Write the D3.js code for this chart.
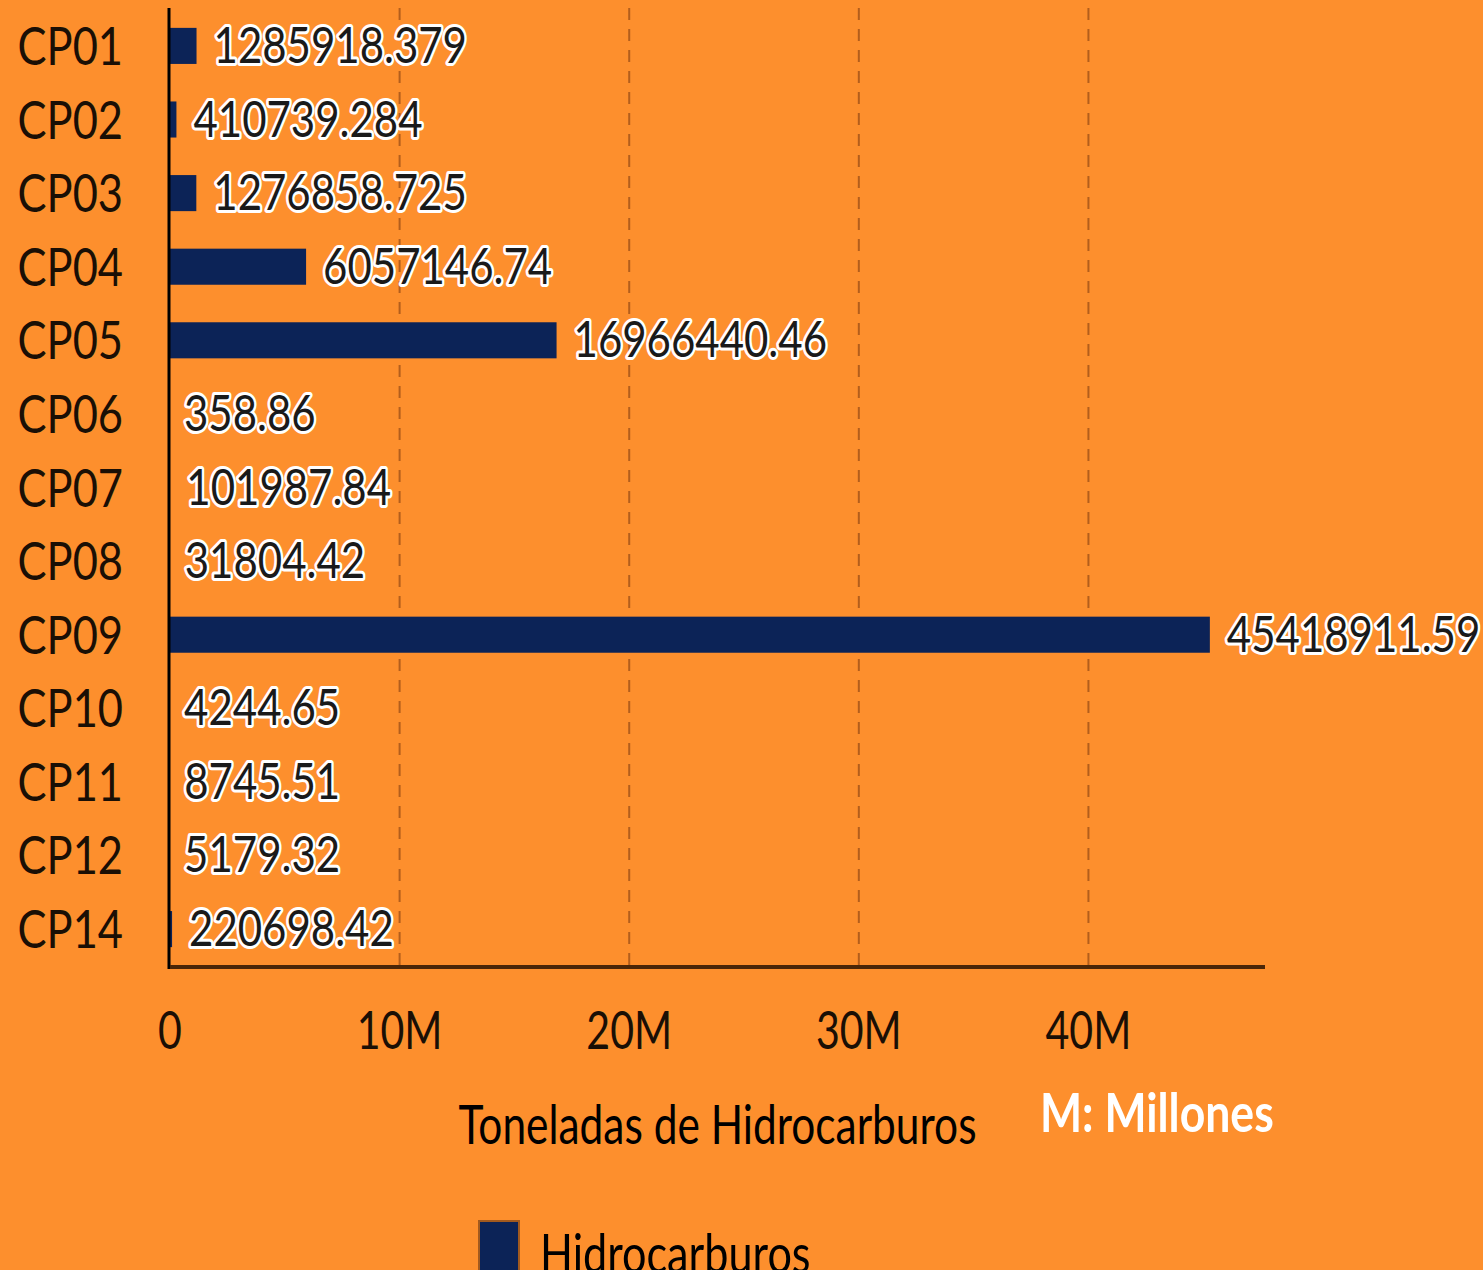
<!DOCTYPE html>
<html>
<head>
<meta charset="utf-8">
<script src="https://cdn.jsdelivr.net/npm/d3@7"></script>
<style>
  body { margin: 0; background: #fd8f2d; overflow: hidden; }
  svg { display: block; }
</style>
</head>
<body>
<svg id="chart"></svg>
<script>
const categories = ['CP01', 'CP02', 'CP03', 'CP04', 'CP05', 'CP06', 'CP07', 'CP08', 'CP09', 'CP10', 'CP11', 'CP12', 'CP14'];
const values = [1285918.379, 410739.284, 1276858.725, 6057146.74, 16966440.46, 358.86, 101987.84, 31804.42, 45418911.59, 4244.65, 8745.51, 5179.32, 220698.42];
const valueLabels = ['1285918.379', '410739.284', '1276858.725', '6057146.74', '16966440.46', '358.86', '101987.84', '31804.42', '45418911.59', '4244.65', '8745.51', '5179.32', '220698.42'];
const xTicks = [0, 10000000, 20000000, 30000000, 40000000];
const seriesName = 'Hidrocarburos';

const width = 1483, height = 1270;
const margin = { top: 8, right: 218, bottom: 303, left: 170 };
const innerW = width - margin.left - margin.right;
const innerH = height - margin.top - margin.bottom;
const navy = '#0c2357';

const svg = d3.select('#chart')
    .attr('width', width)
    .attr('height', height)
    .style('font-family', 'Lato, "Open Sans", sans-serif');

svg.append('rect')
    .attr('width', width)
    .attr('height', height)
    .attr('fill', '#fd8f2d');

const chart = svg.append('g')
    .attr('transform', `translate(${margin.left}, ${margin.top})`);

const xScale = d3.scaleLinear()
    .domain([0, d3.max(values) * 1.05])
    .range([0, innerW]);

const yScale = d3.scaleBand()
    .domain(categories)
    .range([0, innerH])
    .paddingInner(0.51)
    .paddingOuter(0.27);

// dashed grid
chart.selectAll('.grid')
    .data(xTicks.slice(1))
    .enter()
    .append('line')
    .attr('class', 'grid')
    .attr('x1', d => xScale(d))
    .attr('x2', d => xScale(d))
    .attr('y1', 0)
    .attr('y2', innerH)
    .attr('stroke', '#b35e1c')
    .attr('stroke-width', 2)
    .attr('stroke-dasharray', '12,9');

// bars (slightly inset, tiny values vanish like in the original)
chart.selectAll('.bar')
    .data(values)
    .enter()
    .append('rect')
    .attr('class', 'bar')
    .attr('x', xScale(0))
    .attr('y', (d, i) => yScale(categories[i]))
    .attr('width', d => Math.max(0, xScale(d) - 3))
    .attr('height', yScale.bandwidth())
    .attr('fill', navy);

// value labels
chart.selectAll('.val')
    .data(values)
    .enter()
    .append('text')
    .attr('class', 'val')
    .attr('transform', (d, i) => `translate(${xScale(d) + 14}, ${yScale(categories[i]) + yScale.bandwidth() / 2 + 17}) scale(0.84,1)`)
    .attr('font-size', 50)
    .attr('fill', '#1a1a1a')
    .attr('stroke', '#ffffff')
    .attr('stroke-width', 6)
    .attr('stroke-linejoin', 'round')
    .attr('paint-order', 'stroke')
    .text((d, i) => valueLabels[i]);

// y axis
const yAxisG = chart.append('g');
yAxisG.append('line')
    .attr('x1', -1).attr('x2', -1)
    .attr('y1', 0).attr('y2', innerH + 2)
    .attr('stroke', '#000')
    .attr('stroke-width', 3);
yAxisG.selectAll('text')
    .data(categories)
    .enter()
    .append('text')
    .attr('transform', d => `translate(-47, ${yScale(d) + yScale.bandwidth() / 2 + 19}) scale(0.835,1)`)
    .attr('text-anchor', 'end')
    .attr('font-size', 52)
    .attr('fill', '#1a0f05')
    .text(d => d);

// x axis
const xAxisG = chart.append('g')
    .attr('transform', `translate(0, ${innerH})`);
xAxisG.append('line')
    .attr('x1', 0).attr('x2', innerW)
    .attr('y1', 0).attr('y2', 0)
    .attr('stroke', '#4a2608')
    .attr('stroke-width', 4);
xAxisG.selectAll('text')
    .data(xTicks)
    .enter()
    .append('text')
    .attr('transform', d => `translate(${xScale(d)}, 82) scale(0.79,1)`)
    .attr('text-anchor', 'middle')
    .attr('font-size', 52)
    .attr('fill', '#1a0f05')
    .text(d => d === 0 ? '0' : d3.format('~s')(d));

// axis title
svg.append('text')
    .attr('transform', `translate(${margin.left + innerW / 2}, 1144) scale(0.786,1)`)
    .attr('text-anchor', 'middle')
    .attr('font-size', 54)
    .attr('fill', '#000')
    .text('Toneladas de Hidrocarburos');

svg.append('text')
    .attr('transform', `translate(1040, 1132) scale(0.825,1)`)
    .attr('font-size', 54)
    .attr('font-weight', 'bold')
    .attr('fill', '#ffffff')
    .text('M: Millones');

// legend
const legend = svg.append('g')
    .attr('transform', 'translate(478, 1220)');
legend.append('rect')
    .attr('x', 1).attr('y', 1)
    .attr('width', 40).attr('height', 60)
    .attr('fill', navy)
    .attr('stroke', '#a35a1e')
    .attr('stroke-width', 2);
legend.append('text')
    .attr('transform', `translate(62, 53) scale(0.8,1)`)
    .attr('font-size', 54)
    .attr('fill', '#000')
    .text(seriesName);
</script>
</body>
</html>
